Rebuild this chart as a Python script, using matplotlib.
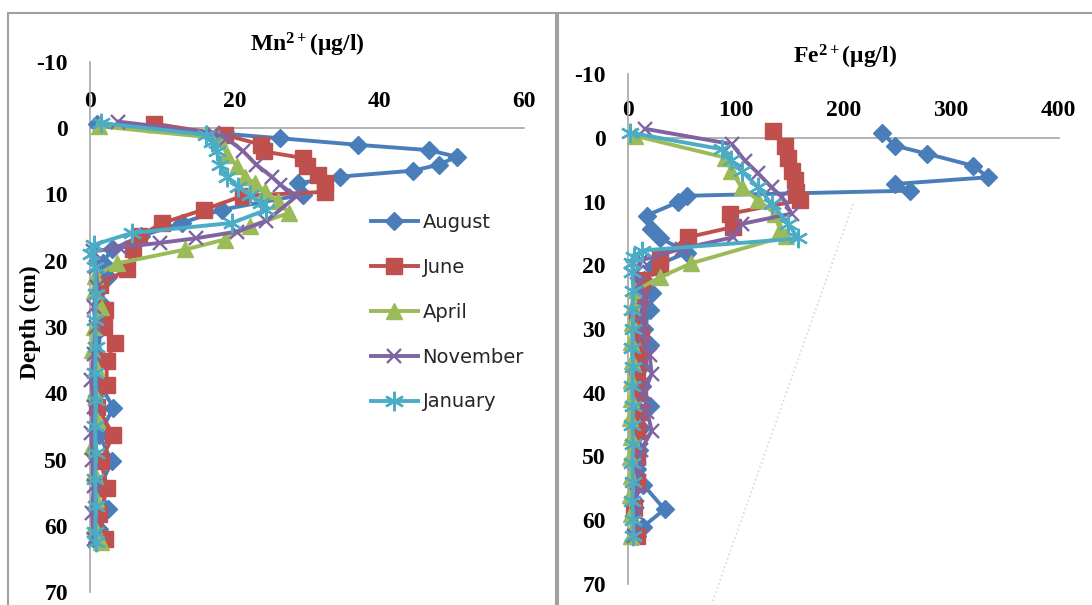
import matplotlib
matplotlib.use("Agg")
import matplotlib.pyplot as plt
from matplotlib.patches import Rectangle

W, H = 1092, 605

plt.rcParams['axes.unicode_minus'] = False
plt.rcParams['mathtext.fontset'] = 'custom'
plt.rcParams['mathtext.rm'] = 'Liberation Serif:bold'
plt.rcParams['mathtext.it'] = 'Liberation Serif:bold'
plt.rcParams['mathtext.bf'] = 'Liberation Serif:bold'

series_names = ['August', 'June', 'April', 'November', 'January']
colors = ['#4A7EBB', '#C0504D', '#9BBB59', '#8064A2', '#4BACC6']

# ---- Mn2+ (ug/l) profiles ----
mn_aug_depth = [-0.7, 1.5, 2.5, 3.3, 4.3, 5.5, 6.4, 7.3, 8.3, 10.0, 12.3, 14.3, 16.3, 18.3,
                20.3, 22.4, 24.4, 26.4, 30.4, 34.4, 38.4, 42.2, 46.3, 50.3, 54.3, 57.4, 60.5, 62.5]
mn_aug = [1.0, 26.2, 37.0, 46.8, 50.7, 48.2, 44.7, 34.6, 28.8, 29.5, 18.2, 12.7, 7.0, 3.0,
          1.8, 2.5, 1.2, 1.5, 1.3, 1.3, 1.3, 3.2, 1.3, 3.0, 1.3, 2.5, 1.3, 1.0]

mn_jun_depth = [-0.7, 1.0, 2.5, 3.5, 4.5, 5.7, 7.0, 8.3, 9.6, 10.2, 12.3, 14.3, 16.3, 18.3,
                21.3, 23.6, 27.4, 30.0, 32.4, 35.2, 38.7, 42.0, 46.3, 50.3, 54.3, 58.3, 62.0]
mn_jun = [8.8, 18.7, 23.7, 24.0, 29.5, 30.0, 31.5, 32.5, 32.5, 21.1, 15.7, 10.0, 6.8, 6.0,
          5.1, 1.4, 2.1, 2.0, 3.4, 2.3, 2.3, 1.0, 3.2, 1.5, 2.4, 1.3, 2.1]

mn_apr_depth = [-0.3, 1.5, 4.0, 5.7, 7.3, 8.3, 9.5, 11.0, 12.8, 14.8, 16.8, 18.3, 20.4,
                22.3, 24.5, 27.0, 30.0, 33.5, 36.0, 40.0, 44.0, 48.0, 52.0, 56.0, 60.0, 62.5]
mn_apr = [1.2, 17.8, 19.0, 20.3, 21.4, 22.8, 24.2, 26.0, 27.5, 22.1, 18.6, 13.2, 3.8,
          0.7, 0.5, 1.5, 0.5, 0.3, 0.8, 0.5, 1.0, 0.3, 0.5, 0.8, 0.5, 1.5]

mn_nov_depth = [-1.0, 0.7, 1.5, 3.5, 5.5, 7.3, 8.5, 10.3, 14.0, 15.6, 16.6, 17.3, 18.0,
                18.6, 21.0, 24.0, 27.0, 30.0, 34.0, 38.0, 42.0, 46.0, 50.0, 54.0, 58.0, 62.0]
mn_nov = [3.9, 17.0, 18.9, 21.2, 23.0, 25.1, 26.3, 28.5, 24.4, 20.3, 14.7, 9.7, 4.1,
          0.4, 0.8, 1.0, 0.5, 0.8, 0.5, 0.2, 0.5, 0.2, 0.3, 0.5, 0.3, 0.5]

mn_jan_depth = [-0.8, 1.0, 2.0, 3.5, 5.5, 7.3, 8.8, 10.0, 11.3, 12.3, 14.3, 15.8, 17.6,
                19.0, 21.0, 25.0, 29.0, 33.0, 37.0, 41.0, 45.0, 49.0, 53.0, 57.0, 61.0, 62.5]
mn_jan = [1.5, 16.1, 16.8, 17.5, 18.0, 18.9, 20.5, 22.1, 23.7, 24.4, 19.6, 5.8, 0.5,
          0.2, 0.7, 0.8, 0.7, 0.8, 0.7, 0.8, 0.7, 0.8, 0.7, 0.8, 0.7, 0.8]

# ---- Fe2+ (ug/l) profiles ----
fe_aug_depth = [-0.8, 1.25, 2.5, 4.4, 6.2, 7.25, 8.3, 9.1, 10.1, 12.2, 14.3, 15.7, 18.0, 20.3,
                22.3, 24.4, 27.0, 30.0, 32.5, 36.0, 39.0, 42.0, 45.5, 49.0, 52.0, 54.4, 58.3, 61.0, 62.5]
fe_aug = [235.7, 248, 277.6, 320.7, 334.6, 248, 262, 54.5, 46.5, 17.3, 21.0, 29.7, 55.0, 22.0,
          15.0, 22.0, 20.0, 15.0, 20.0, 12.0, 13.0, 20.0, 12.0, 10.0, 8.0, 14.0, 34.0, 14.0, 8.0]

fe_jun_depth = [-1.1, 1.25, 3.1, 5.2, 6.7, 8.5, 9.8, 11.9, 14.0, 15.6, 18.9, 20.3, 22.3,
                25.0, 28.0, 31.0, 34.0, 37.0, 40.0, 43.0, 46.0, 50.0, 54.0, 58.0, 62.4]
fe_jun = [135, 146, 149, 152, 155, 156.5, 160, 95, 97.6, 55.8, 29.7, 29.7, 12.7,
          10, 8, 12, 10, 8, 10, 12, 8, 8, 8, 6, 8]

fe_apr_depth = [-0.3, 3.1, 5.2, 7.8, 9.8, 11.9, 14.5, 15.4, 19.7, 21.9, 23.9, 26.0,
                29.0, 32.0, 35.0, 38.0, 41.0, 44.0, 47.0, 50.0, 53.0, 56.0, 59.0, 62.4]
fe_apr = [6.5, 90, 96, 105.6, 121, 136.6, 141, 147, 58.6, 29.6, 7.6, 6,
          4, 3, 4, 3, 3, 2, 3, 2, 3, 2, 3, 3]

fe_nov_depth = [-1.4, 1.0, 3.6, 5.6, 7.8, 9.3, 11.9, 13.5, 15.6, 17.4, 19.2, 21.0, 23.0,
                25.0, 28.0, 31.0, 34.0, 37.0, 40.0, 43.0, 46.0, 49.0, 52.0, 56.0, 59.0, 62.4]
fe_nov = [15.8, 96.3, 108.7, 121, 133.5, 143, 152, 106, 98, 50, 12.7, 8, 10,
          15, 12, 15, 20, 22, 15, 18, 22, 12, 10, 8, 8, 6]

fe_jan_depth = [-0.8, 1.8, 3.5, 5.2, 7.8, 10.4, 13.5, 15.8, 17.7, 18.7, 19.6, 21.0, 24.0,
                27.0, 30.0, 33.0, 36.0, 39.0, 42.0, 45.0, 48.0, 51.0, 54.0, 57.0, 60.0, 62.4]
fe_jan = [2, 87, 96, 105.6, 121, 133.5, 149, 158, 12.7, 5.5, 4, 4, 5,
          4, 5, 4, 5, 4, 5, 4, 5, 4, 5, 4, 5, 5]

# faint dotted line in Fe panel
fe_dotted_x = [209, 78]
fe_dotted_depth = [10.4, 73.0]

mn_x_ticks = [0, 20, 40, 60]
fe_x_ticks = [0, 100, 200, 300, 400]
depth_ticks = [-10, 0, 10, 20, 30, 40, 50, 60, 70]

markers = ['D', 's', '^', 'x', (6, 2, 0)]
msizes = [9, 11, 11, 10, 14]

fig = plt.figure(figsize=(W / 100, H / 100), dpi=100)

# panel borders
fig.patches.append(Rectangle((8 / W, -0.1), 548 / W, 1.1 - 13 / H, transform=fig.transFigure,
                             fill=False, ec='#A0A0A0', lw=1.5, zorder=0))
fig.patches.append(Rectangle((558 / W, -0.1), 560 / W, 1.1 - 13 / H, transform=fig.transFigure,
                             fill=False, ec='#A0A0A0', lw=1.5, zorder=0))

ax1 = fig.add_axes([90 / W, (H - 592) / H, 434 / W, 530 / H])
ax2 = fig.add_axes([628 / W, (H - 584) / H, 430.6 / W, 510 / H])

mn_data = [(mn_aug, mn_aug_depth), (mn_jun, mn_jun_depth), (mn_apr, mn_apr_depth),
           (mn_nov, mn_nov_depth), (mn_jan, mn_jan_depth)]
fe_data = [(fe_aug, fe_aug_depth), (fe_jun, fe_jun_depth), (fe_apr, fe_apr_depth),
           (fe_nov, fe_nov_depth), (fe_jan, fe_jan_depth)]

ax2.plot(fe_dotted_x, fe_dotted_depth, color='#D8D8D8', lw=1.2, ls=':', clip_on=False, zorder=1)

handles = []
for ax, data in [(ax1, mn_data), (ax2, fe_data)]:
    for i, (vals, dep) in enumerate(data):
        ln, = ax.plot(vals, dep, color=colors[i], lw=2.8, marker=markers[i], ms=msizes[i],
                      mec=colors[i], mfc=colors[i], mew=1.7 if i >= 3 else 1,
                      clip_on=False, zorder=3 + i)
        if ax is ax1:
            handles.append(ln)

for ax, xmax, xt in [(ax1, 60, mn_x_ticks), (ax2, 400, fe_x_ticks)]:
    ax.set_xlim(0, xmax)
    ax.set_ylim(70, -10)
    ax.set_facecolor('none')
    ax.spines['right'].set_visible(False)
    ax.spines['bottom'].set_visible(False)
    ax.spines['top'].set_position(('data', 0))
    for s in ['top', 'left']:
        ax.spines[s].set_color('#A6A6A6')
        ax.spines[s].set_linewidth(1.2)
        ax.spines[s].set_zorder(2)
    ax.xaxis.tick_top()
    ax.set_xticks(xt)
    ax.set_yticks(depth_ticks)
    ax.tick_params(length=0)
    ax.tick_params(axis='x', pad=12)
    ax.tick_params(axis='y', pad=16)
    for lab in ax.get_xticklabels() + ax.get_yticklabels():
        lab.set_fontfamily('Liberation Serif')
        lab.set_fontweight('bold')
        lab.set_fontsize(17)

fig.text(307 / W, 1 - 45 / H, r'Mn$^{2+}$(μg/l)', ha='center', va='center',
         family='Liberation Serif', weight='bold', fontsize=17)
fig.text(845 / W, 1 - 57 / H, r'Fe$^{2+}$(μg/l)', ha='center', va='center',
         family='Liberation Serif', weight='bold', fontsize=17)
fig.text(30 / W, 1 - 322 / H, 'Depth (cm)', rotation=90, ha='center', va='center',
         family='Liberation Serif', weight='bold', fontsize=17)

leg = ax1.legend(handles, series_names, loc='upper left',
                 bbox_to_anchor=(371 / W, 1 - 213 / H), bbox_transform=fig.transFigure,
                 frameon=False, prop={'family': 'DejaVu Sans', 'size': 14},
                 handlelength=2.4, handletextpad=0.25, labelspacing=1.33,
                 borderpad=0, borderaxespad=0, numpoints=1)
for t in leg.get_texts():
    t.set_color('#262626')

fig.savefig('out.png', dpi=100)
